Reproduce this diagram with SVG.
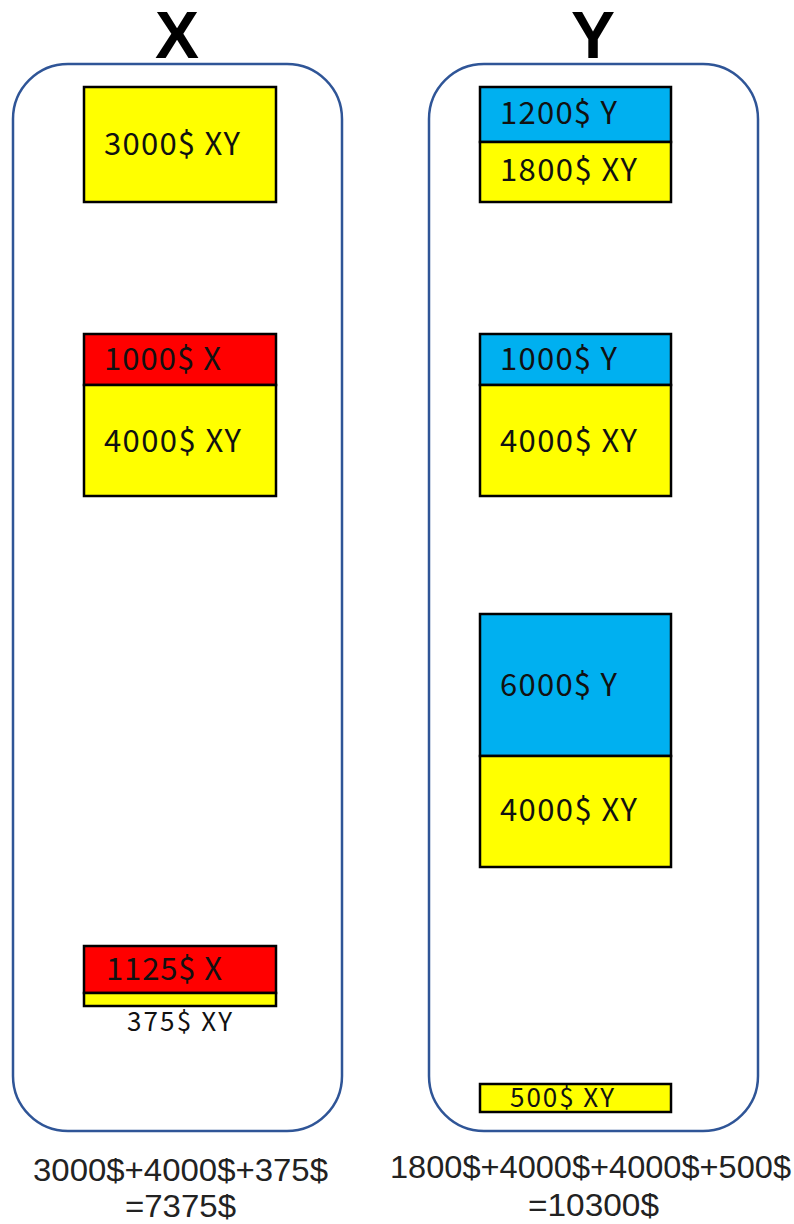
<svg xmlns="http://www.w3.org/2000/svg" width="794" height="1224" viewBox="0 0 794 1224">
<style>
.cont{fill:#fff;stroke:#2F5597;stroke-width:2.5}
.yel{fill:#FFFF00;stroke:#000;stroke-width:2.5}
.red{fill:#FF0000;stroke:#000;stroke-width:2.5}
.blu{fill:#00B0F0;stroke:#000;stroke-width:2.5}
.t{font-family:"Noto Sans CJK JP","Noto Sans",sans-serif;font-size:31px;fill:#111}
.s{font-family:"Noto Sans CJK JP","Noto Sans",sans-serif;font-size:26px;fill:#111}
.b{font-family:"Liberation Sans",Arial,sans-serif;font-size:31px;fill:#222}
.h{font-family:"Liberation Sans",Arial,sans-serif;font-size:66px;font-weight:bold;fill:#000;text-anchor:middle}
</style>
<rect width="794" height="1224" fill="#fff"/>
<g id="containerX">
<rect class="cont" x="13" y="64" width="329" height="1067" rx="55"/>
<text class="h" x="177" y="58">X</text>
</g>
<g id="containerY">
<rect class="cont" x="429" y="64" width="329" height="1067" rx="55"/>
<text class="h" x="593" y="58">Y</text>
</g>
<g id="x1">
<rect class="yel" x="84" y="87" width="192" height="115"/>
<text class="t" x="104" y="155" textLength="136">3000$ XY</text>
</g>
<g id="x2">
<rect class="red" x="84" y="334" width="192" height="51"/>
<text class="t" x="104" y="370" textLength="117">1000$ X</text>
<rect class="yel" x="84" y="385" width="192" height="111"/>
<text class="t" x="104" y="452" textLength="137">4000$ XY</text>
</g>
<g id="x3">
<rect class="red" x="84" y="946" width="192" height="47"/>
<text class="t" x="106" y="980" textLength="116">1125$ X</text>
<rect class="yel" x="84" y="993" width="192" height="13"/>
<text class="s" x="127" y="1031" textLength="105">375$ XY</text>
</g>
<g id="y1">
<rect class="blu" x="480" y="87" width="191" height="55"/>
<text class="t" x="500" y="124" textLength="117">1200$ Y</text>
<rect class="yel" x="480" y="142" width="191" height="60"/>
<text class="t" x="500" y="181" textLength="137">1800$ XY</text>
</g>
<g id="y2">
<rect class="blu" x="480" y="334" width="191" height="51"/>
<text class="t" x="500" y="370" textLength="117">1000$ Y</text>
<rect class="yel" x="480" y="385" width="191" height="111"/>
<text class="t" x="500" y="452" textLength="137">4000$ XY</text>
</g>
<g id="y3">
<rect class="blu" x="480" y="614" width="191" height="142"/>
<text class="t" x="500" y="696" textLength="117">6000$ Y</text>
<rect class="yel" x="480" y="756" width="191" height="111"/>
<text class="t" x="500" y="821" textLength="137">4000$ XY</text>
</g>
<g id="y4">
<rect class="yel" x="480" y="1084" width="191" height="28"/>
<text class="s" x="510" y="1107" textLength="104">500$ XY</text>
</g>
<g id="totals">
<text class="b" x="33" y="1181" textLength="295" lengthAdjust="spacingAndGlyphs">3000$+4000$+375$</text>
<text class="b" x="125" y="1217" textLength="111" lengthAdjust="spacingAndGlyphs">=7375$</text>
<text class="b" x="390" y="1178" textLength="401" lengthAdjust="spacingAndGlyphs">1800$+4000$+4000$+500$</text>
<text class="b" x="528" y="1216" textLength="131" lengthAdjust="spacingAndGlyphs">=10300$</text>
</g>
<g id="connectors"></g>
</svg>
